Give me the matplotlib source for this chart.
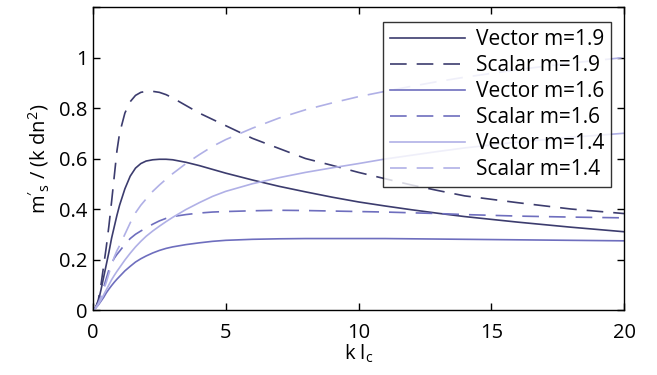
import matplotlib
matplotlib.use("Agg")
import matplotlib.pyplot as plt

plt.rcParams['font.family'] = ['Open Sans', 'DejaVu Sans']
plt.rcParams['mathtext.fontset'] = 'custom'
plt.rcParams['mathtext.rm'] = 'Open Sans'
plt.rcParams['mathtext.it'] = 'Open Sans'

# values
kl = [0, 0.1, 0.2, 0.3, 0.4, 0.5, 0.6, 0.7, 0.8, 0.9, 1.0, 1.2, 1.4, 1.6, 1.8, 2.0, 2.25, 2.5, 2.75, 3,
      3.5, 4, 4.5, 5, 6, 7, 8, 9, 10, 11, 12, 13, 14, 16, 18, 20]

vec_19 = [0, 0.01, 0.035, 0.08, 0.13, 0.18, 0.23, 0.285, 0.33, 0.375, 0.415, 0.48, 0.53, 0.562, 0.58, 0.59,
          0.595, 0.597, 0.597, 0.595, 0.585, 0.572, 0.557, 0.542, 0.515, 0.49, 0.468, 0.447, 0.428, 0.412,
          0.397, 0.383, 0.37, 0.348, 0.328, 0.31]
sca_19 = [0, 0.01, 0.04, 0.1, 0.175, 0.25, 0.335, 0.43, 0.53, 0.63, 0.7, 0.78, 0.825, 0.85, 0.862, 0.866,
          0.866, 0.862, 0.853, 0.84, 0.81, 0.78, 0.755, 0.73, 0.68, 0.64, 0.60, 0.573, 0.545, 0.52,
          0.495, 0.473, 0.452, 0.425, 0.40, 0.382]
vec_16 = [0, 0.008, 0.02, 0.035, 0.05, 0.068, 0.083, 0.097, 0.11, 0.122, 0.133, 0.155, 0.173, 0.19, 0.203, 0.214,
          0.226, 0.236, 0.244, 0.25, 0.259, 0.266, 0.272, 0.276, 0.28, 0.282, 0.283, 0.283, 0.283, 0.283,
          0.282, 0.281, 0.28, 0.278, 0.276, 0.274]
sca_16 = [0, 0.01, 0.03, 0.055, 0.09, 0.125, 0.16, 0.185, 0.205, 0.22, 0.233, 0.26, 0.283, 0.3, 0.313, 0.325,
          0.34, 0.353, 0.363, 0.37, 0.378, 0.384, 0.388, 0.39, 0.393, 0.395, 0.394, 0.392, 0.39, 0.388,
          0.385, 0.382, 0.378, 0.372, 0.368, 0.365]
vec_14 = [0, 0.008, 0.022, 0.04, 0.06, 0.08, 0.1, 0.12, 0.137, 0.153, 0.168, 0.198, 0.225, 0.25, 0.272, 0.292,
          0.313, 0.332, 0.35, 0.367, 0.398, 0.425, 0.45, 0.47, 0.50, 0.524, 0.545, 0.563, 0.58, 0.598,
          0.613, 0.628, 0.642, 0.665, 0.684, 0.70]
sca_14 = [0, 0.01, 0.025, 0.05, 0.08, 0.11, 0.145, 0.18, 0.21, 0.235, 0.255, 0.3, 0.345, 0.385, 0.415, 0.44,
          0.47, 0.495, 0.518, 0.54, 0.58, 0.615, 0.648, 0.675, 0.72, 0.76, 0.793, 0.82, 0.845, 0.866,
          0.886, 0.905, 0.922, 0.952, 0.978, 1.0]

series = [
  ("Vector m=1.9", vec_19, "#3c3c6e", "-"),
  ("Scalar m=1.9", sca_19, "#3c3c6e", "--"),
  ("Vector m=1.6", vec_16, "#6e6ebe", "-"),
  ("Scalar m=1.6", sca_16, "#6e6ebe", "--"),
  ("Vector m=1.4", vec_14, "#b0b0e6", "-"),
  ("Scalar m=1.4", sca_14, "#b0b0e6", "--"),
]

fig = plt.figure(figsize=(6.57, 3.75), dpi=100)
ax = fig.add_axes([0.1416, 0.1733, 0.8082, 0.808])

for label, vals, col, ls in series:
  if ls == "--":
    ax.plot(kl, vals, color=col, lw=1.2, linestyle=(0, (10, 6)), label=label)
  else:
    ax.plot(kl, vals, color=col, lw=1.2, label=label)

ax.set_xlim(0, 20)
ax.set_ylim(0, 1.2)
ax.set_xticks([0, 5, 10, 15, 20])
ax.set_yticks([0, 0.2, 0.4, 0.6, 0.8, 1.0, 1.2])
ax.set_yticklabels(["0", "0.2", "0.4", "0.6", "0.8", "1", ""])
ax.tick_params(direction="in", top=True, right=True, length=5, width=1, labelsize=14.5, pad=4)
ax.tick_params(axis="x", pad=9)
for s in ax.spines.values():
  s.set_linewidth(1.0)

ax.set_xlabel(r"k l$_{\mathrm{c}}$", fontsize=14.5, labelpad=0)
ax.set_ylabel(r"$\mathrm{m}'_{\mathrm{s}}$ / (k dn$^2$)", fontsize=14.5, labelpad=6)

leg = ax.legend(loc="upper right", bbox_to_anchor=(0.976, 0.951), fontsize=15, frameon=True, fancybox=False,
                handlelength=3.6, handletextpad=0.5, labelspacing=0.24, borderpad=0.35, borderaxespad=0)
leg.get_frame().set_edgecolor("black")
leg.get_frame().set_linewidth(1.0)

fig.savefig("out.png", dpi=100)
